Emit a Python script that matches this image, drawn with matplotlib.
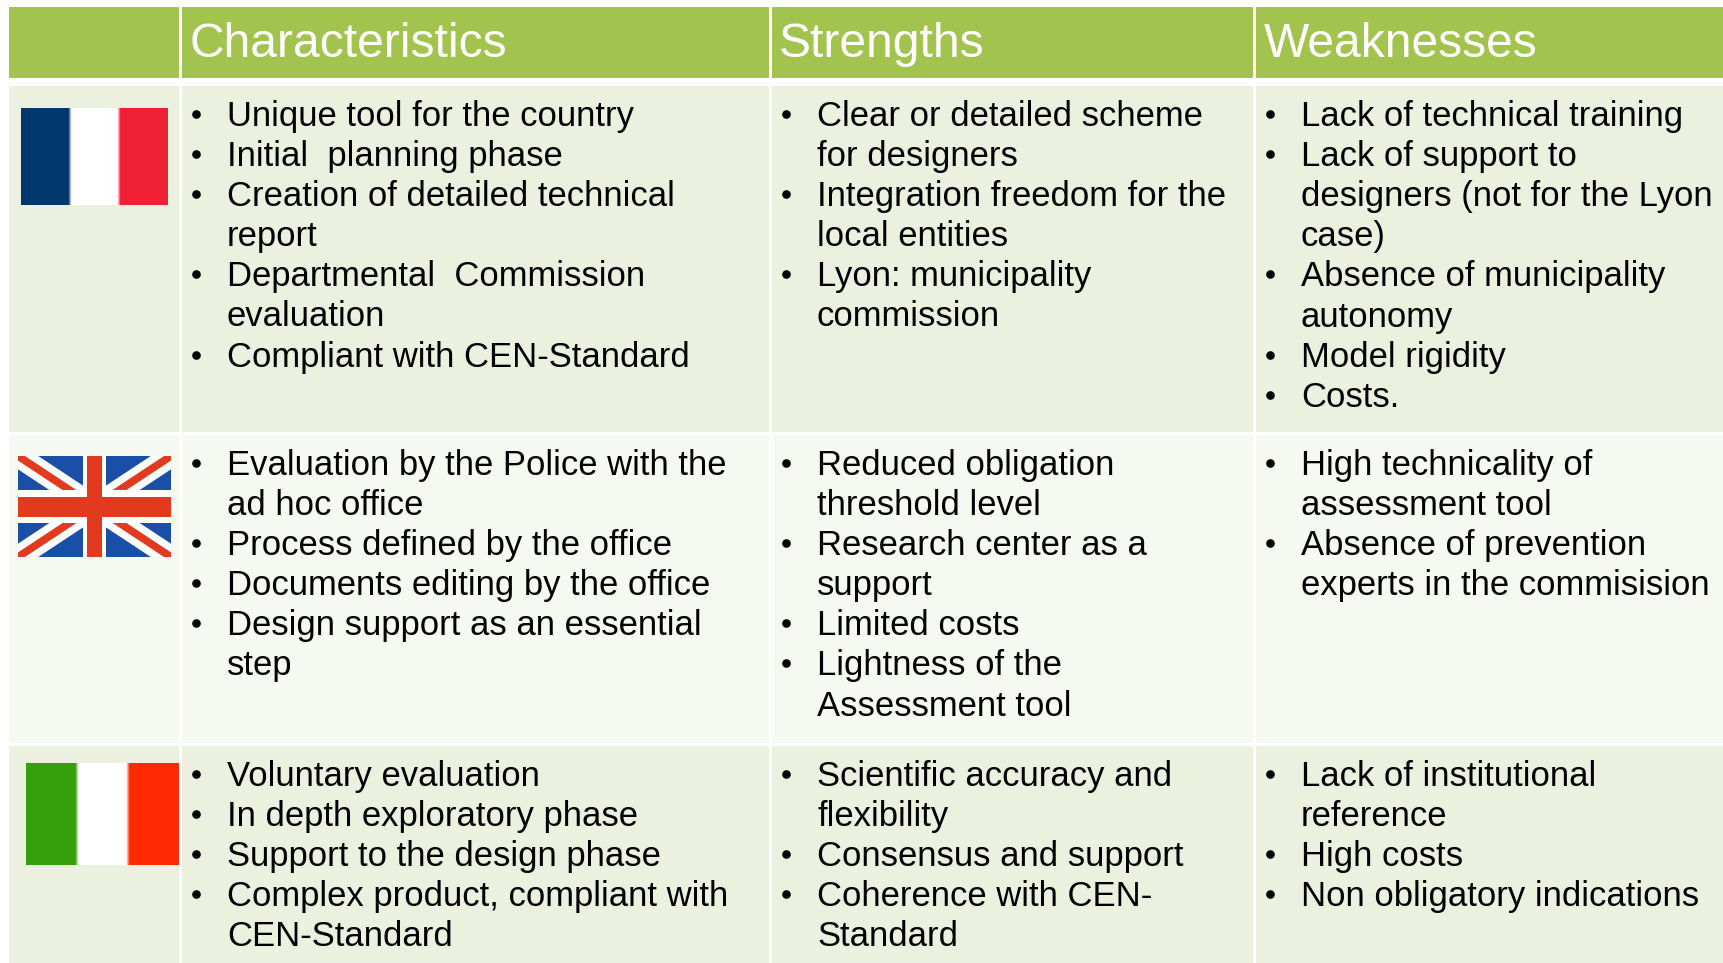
import matplotlib
matplotlib.use('Agg')
import numpy as np
import matplotlib.pyplot as plt
from matplotlib.patches import Rectangle

plt.rcParams['font.family'] = ['Liberation Sans', 'DejaVu Sans']

headers = ['Characteristics', 'Strengths', 'Weaknesses']

# each bullet is a list of its wrapped lines
france_char = [['Unique tool for the country'], ['Initial  planning phase'],
               ['Creation of detailed technical', 'report'],
               ['Departmental  Commission', 'evaluation'],
               ['Compliant with CEN-Standard']]
france_str = [['Clear or detailed scheme', 'for designers'],
              ['Integration freedom for the', 'local entities'],
              ['Lyon: municipality', 'commission']]
france_weak = [['Lack of technical training'],
               ['Lack of support to', 'designers (not for the Lyon', 'case)'],
               ['Absence of municipality', 'autonomy'],
               ['Model rigidity'], ['Costs.']]

uk_char = [['Evaluation by the Police with the', 'ad hoc office'],
           ['Process defined by the office'],
           ['Documents editing by the office'],
           ['Design support as an essential', 'step']]
uk_str = [['Reduced obligation', 'threshold level'],
          ['Research center as a', 'support'],
          ['Limited costs'],
          ['Lightness of the', 'Assessment tool']]
uk_weak = [['High technicality of', 'assessment tool'],
           ['Absence of prevention', 'experts in the commisision']]

italy_char = [['Voluntary evaluation'], ['In depth exploratory phase'],
              ['Support to the design phase'],
              ['Complex product, compliant with', 'CEN-Standard']]
italy_str = [['Scientific accuracy and', 'flexibility'],
             ['Consensus and support'],
             ['Coherence with CEN-', 'Standard']]
italy_weak = [['Lack of institutional', 'reference'], ['High costs'],
              ['Non obligatory indications']]

rows = [[france_char, france_str, france_weak],
        [uk_char, uk_str, uk_weak],
        [italy_char, italy_str, italy_weak]]

GREEN = '#A2C44E'
ROW_A = '#ECF0DF'
ROW_B = '#F6F9F1'

col_x = [(9, 179), (182, 769), (772, 1253), (1256, 1723)]
row_y = [(86, 432), (435, 743), (746, 963)]
row_base = [126, 475, 786]
row_col = [ROW_A, ROW_B, ROW_A]
bullet_x = [196, 786, 1270]
text_x = [227, 817, 1301]
head_x = [190, 779, 1264]
line_h = 40.1

fig = plt.figure(figsize=(17.23, 9.63), dpi=100)
ax = fig.add_axes([0, 0, 1, 1])

for x0, x1 in col_x:
    ax.add_patch(Rectangle((x0, 7), x1 - x0, 71, fc=GREEN, ec='none'))
    for (y0, y1), c in zip(row_y, row_col):
        ax.add_patch(Rectangle((x0, y0), x1 - x0, y1 - y0, fc=c, ec='none'))

for x, h in zip(head_x, headers):
    ax.text(x, 57, h, color='white', fontsize=34.6, va='baseline', ha='left')

for cells, base in zip(rows, row_base):
    for bullets, bx, tx in zip(cells, bullet_x, text_x):
        n = 0
        for b in bullets:
            ax.plot([bx], [base + n * line_h - 12], 'o', color='black', ms=6.2, mew=0)
            for line in b:
                ax.text(tx, base + n * line_h, line, color='black', fontsize=24.95,
                        va='baseline', ha='left')
                n += 1

# flags, soft edges like the scaled-up bitmaps in the reference
fr = np.repeat(np.array([[[0, 56, 110], [255, 255, 255], [240, 32, 52]]], dtype=np.uint8), 15, axis=1)
ax.imshow(fr, extent=(21, 168, 205, 108), interpolation='bilinear', aspect='auto', zorder=3)
it = np.repeat(np.array([[[52, 160, 12], [255, 255, 255], [255, 42, 0]]], dtype=np.uint8), 15, axis=1)
ax.imshow(it, extent=(26, 179, 865, 763), interpolation='bilinear', aspect='auto', zorder=3)

ux0, ux1, uy0, uy1 = 18, 171, 456, 557
blue, red = '#1A4FA8', '#E23A1E'
ax.add_patch(Rectangle((ux0, uy0), ux1 - ux0, uy1 - uy0, fc=blue, ec='none', zorder=3))
clip = Rectangle((ux0, uy0), ux1 - ux0, uy1 - uy0, transform=ax.transData)
for (a, b) in [((ux0, uy0), (ux1, uy1)), ((ux0, uy1), (ux1, uy0))]:
    l, = ax.plot([a[0], b[0]], [a[1], b[1]], color='white', lw=16, zorder=4, solid_capstyle='projecting')
    l.set_clip_path(clip)
    l, = ax.plot([a[0], b[0]], [a[1], b[1]], color=red, lw=5.5, zorder=5, solid_capstyle='projecting')
    l.set_clip_path(clip)
ax.add_patch(Rectangle((ux0, 490), ux1 - ux0, 33, fc='white', ec='none', zorder=6))
ax.add_patch(Rectangle((83, uy0), 23, uy1 - uy0, fc='white', ec='none', zorder=6))
ax.add_patch(Rectangle((ux0, 497), ux1 - ux0, 20, fc=red, ec='none', zorder=7))
ax.add_patch(Rectangle((87, uy0), 15, uy1 - uy0, fc=red, ec='none', zorder=7))

ax.set_xlim(0, 1723)
ax.set_ylim(963, 0)
ax.axis('off')

fig.savefig('out.png', dpi=100, facecolor='white')
